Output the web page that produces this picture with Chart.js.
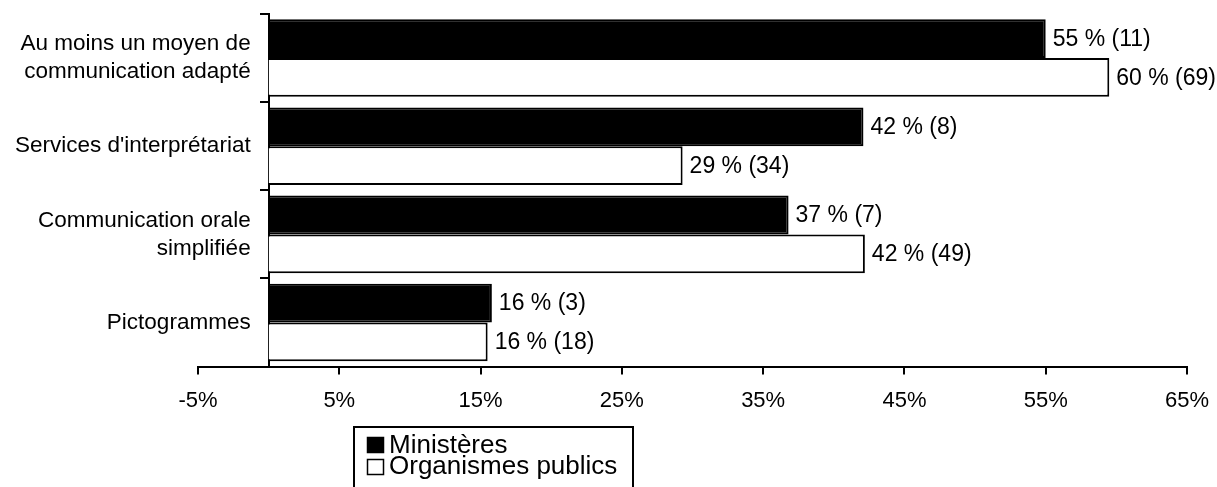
<!DOCTYPE html>
<html lang="fr">
<head>
<meta charset="utf-8">
<title>Moyens de communication adaptés</title>
<script src="https://cdn.jsdelivr.net/npm/chart.js@4"></script>
<style>
  html, body { margin: 0; padding: 0; background: #fff; }
  #wrap { width: 1217px; height: 487px; }
</style>
</head>
<body>
<div id="wrap"><canvas id="chart" width="1217" height="487"></canvas></div>
<script>
// Categories (multi-line labels as arrays)
const categories = [
  ['Au moins un moyen de', 'communication adapté'],
  "Services d'interprétariat",
  ['Communication orale', 'simplifiée'],
  'Pictogrammes'
];

// Series: share in percent and respondent counts
const seriesNames = ['Ministères', 'Organismes publics'];
const ministeresPct = [55.0, 42.1, 36.8, 15.8];
const ministeresCount = [11, 8, 7, 3];
const organismesPct = [59.5, 29.3, 42.2, 15.5];
const organismesCount = [69, 34, 49, 18];

// X axis tick values
const xTicks = [-5, 5, 15, 25, 35, 45, 55, 65];

const FONT = '"Liberation Sans", Arial, Helvetica, sans-serif';

// The category axis sits at x = 0; push its labels clear of the tick marks
const yLabelGap = {
  id: 'yLabelGap',
  beforeDraw(chart) {
    const scale = chart.scales.y;
    const items = scale.getLabelItems(chart.chartArea);
    items.forEach(item => {
      const t = (item.options && item.options.translation) || item.translation;
      if (t && !item._shifted) {
        t[0] -= 18;
        item._shifted = true;
      }
    });
  }
};

// Value labels at bar ends: "55 % (11)"
const valueLabels = {
  id: 'valueLabels',
  afterDatasetsDraw(chart) {
    const ctx = chart.ctx;
    ctx.save();
    ctx.font = '23px ' + FONT;
    ctx.fillStyle = '#000';
    ctx.textAlign = 'left';
    ctx.textBaseline = 'middle';
    chart.data.datasets.forEach((ds, di) => {
      const meta = chart.getDatasetMeta(di);
      meta.data.forEach((bar, i) => {
        const txt = Math.round(ds.data[i]) + ' % (' + ds.counts[i] + ')';
        ctx.fillText(txt, bar.x + 7, bar.y + 1);
      });
    });
    ctx.restore();
  }
};

// Boxed legend below the axis
const boxLegend = {
  id: 'boxLegend',
  afterDraw(chart) {
    const ctx = chart.ctx;
    const left = 354, top = 427, width = 279, height = 80;
    ctx.save();
    ctx.lineWidth = 2;
    ctx.strokeStyle = '#000';
    ctx.strokeRect(left, top, width, height);
    ctx.font = '26px ' + FONT;
    ctx.textAlign = 'left';
    ctx.textBaseline = 'alphabetic';
    chart.data.datasets.forEach((ds, i) => {
      const sy = 437 + i * 22;
      ctx.fillStyle = ds.backgroundColor;
      ctx.fillRect(367, sy, 17, 16);
      ctx.lineWidth = 1.5;
      ctx.strokeRect(367.5, sy + 0.5, 16, 15);
      ctx.fillStyle = '#000';
      ctx.fillText(ds.label, 389, 453 + i * 20.5);
    });
    ctx.restore();
  }
};

new Chart(document.getElementById('chart'), {
  type: 'bar',
  data: {
    labels: categories,
    datasets: [
      {
        label: seriesNames[0],
        data: ministeresPct,
        counts: ministeresCount,
        backgroundColor: '#000000',
        borderColor: '#000000',
        borderWidth: 2
      },
      {
        label: seriesNames[1],
        data: organismesPct,
        counts: organismesCount,
        backgroundColor: '#ffffff',
        borderColor: '#000000',
        borderWidth: 2
      }
    ]
  },
  options: {
    indexAxis: 'y',
    responsive: false,
    animation: false,
    layout: { padding: { left: 198, right: 30, top: 14, bottom: 60 } },
    datasets: { bar: { categoryPercentage: 0.88, barPercentage: 1.0 } },
    plugins: {
      legend: { display: false },
      tooltip: { enabled: false }
    },
    scales: {
      x: {
        type: 'linear',
        position: 'bottom',
        min: -5,
        max: 65,
        afterBuildTicks(scale) {
          scale.ticks = xTicks.map(v => ({ value: v }));
        },
        afterFit(scale) {
          scale.paddingLeft = 0;
          scale.paddingRight = 0;
        },
        ticks: {
          callback: v => v + '%',
          font: { family: FONT, size: 22 },
          color: '#000',
          padding: 13,
          maxRotation: 0,
          autoSkip: false
        },
        grid: {
          drawOnChartArea: false,
          drawTicks: true,
          tickLength: 8,
          color: '#000',
          lineWidth: 2
        },
        border: { display: true, color: '#000', width: 2 }
      },
      y: {
        type: 'category',
        position: { x: 0 },
        afterFit(scale) {
          scale.paddingTop = 0;
          scale.paddingBottom = 0;
        },
        ticks: {
          font: { family: FONT, size: 22.5, lineHeight: 1.25 },
          color: '#000',
          padding: 10,
          autoSkip: false
        },
        grid: {
          offset: true,
          drawOnChartArea: false,
          drawTicks: true,
          tickLength: 8,
          color: '#000',
          lineWidth: 2
        },
        border: { display: true, color: '#000', width: 2 }
      }
    }
  },
  plugins: [yLabelGap, valueLabels, boxLegend]
});
</script>
</body>
</html>
